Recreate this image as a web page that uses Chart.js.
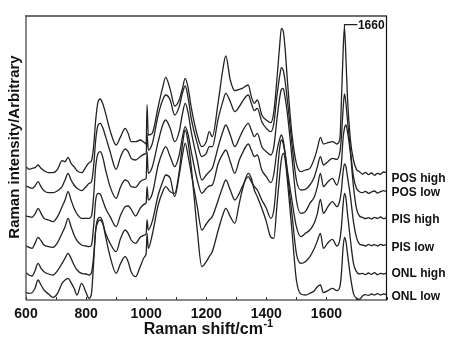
<!DOCTYPE html>
<html>
<head>
<meta charset="utf-8">
<script src="https://cdn.jsdelivr.net/npm/chart.js@4.4.1/dist/chart.umd.min.js"></script>
<style>
  html, body { margin: 0; padding: 0; background: #ffffff; }
  canvas { display: block; }
</style>
</head>
<body>
<canvas id="raman" width="450" height="343"></canvas>
<script>
// Raman shift (cm-1) sampling positions shared by all spectra
const wavenumbers = [
  600, 610, 620, 630, 640, 650, 660, 675, 690, 705,
  720, 730, 740, 750, 760, 770, 785, 800, 810, 818,
  825, 832, 840, 847, 855, 865, 880, 900, 915, 930,
  940, 950, 965, 980, 995, 1000, 1003, 1007, 1020, 1040,
  1055, 1065, 1080, 1095, 1110, 1120, 1130, 1140, 1150, 1170,
  1185, 1200, 1210, 1220, 1240, 1255, 1265, 1280, 1295, 1310,
  1320, 1340, 1350, 1360, 1370, 1385, 1400, 1415, 1425, 1435,
  1445, 1450, 1456, 1462, 1470, 1485, 1500, 1515, 1530, 1545,
  1560, 1570, 1580, 1590, 1605, 1620, 1635, 1645, 1650, 1655,
  1660, 1665, 1670, 1680, 1690, 1700, 1710, 1720, 1730, 1740,
  1750, 1760, 1770, 1780, 1790, 1800
];

// Stacked intensities (arbitrary units, offsets included)
const posHigh = [
  400, 392, 395, 397, 405, 395, 388, 382, 382, 392,
  418, 415, 428, 410, 400, 388, 382, 400, 412, 418,
  460, 540, 595, 603, 590, 560, 508, 465, 490, 515,
  500, 475, 475, 480, 472, 468, 585, 495, 500, 580,
  638, 668, 632, 582, 600, 632, 665, 635, 578, 495,
  460, 475, 505, 490, 595, 690, 732, 660, 628, 632,
  635, 645, 610, 590, 600, 555, 540, 532, 565, 660,
  770, 815, 808, 760, 660, 500, 410, 385, 390, 395,
  425, 455, 488, 468, 472, 475, 468, 485, 600, 730,
  820, 725, 610, 480, 420, 392, 385, 378, 383, 376,
  381, 374, 380, 377, 384, 382
];
const posLow = [
  342, 338, 335, 342, 355, 340, 328, 322, 322, 328,
  340, 360, 380, 360, 345, 335, 328, 340, 350, 355,
  400, 480, 525, 530, 518, 490, 445, 392, 430, 453,
  445, 425, 420, 430, 438, 440, 500, 450, 468, 555,
  600, 615, 600, 555, 580, 618, 642, 605, 545, 470,
  430, 440, 460, 460, 545, 595, 620, 595, 565, 580,
  595, 615, 590, 568, 575, 535, 515, 505, 530, 610,
  675, 697, 690, 660, 600, 470, 360, 330, 332, 345,
  370, 400, 430, 405, 415, 425, 422, 445, 490, 565,
  618, 590, 540, 450, 370, 335, 325, 322, 326, 320,
  324, 327, 321, 325, 328, 325
];
const pisHigh = [
  252, 250, 248, 258, 275, 260, 245, 240, 235, 250,
  280, 300, 325, 300, 275, 258, 245, 245, 245, 252,
  310, 400, 440, 445, 430, 390, 340, 305, 340, 360,
  355, 340, 338, 355, 362, 365, 445, 380, 398, 475,
  525, 540, 515, 475, 505, 555, 590, 560, 505, 420,
  360, 375, 385, 395, 460, 505, 525, 495, 460, 485,
  505, 530, 510, 490, 500, 460, 445, 435, 460, 540,
  610, 632, 635, 610, 560, 430, 300, 260, 265, 290,
  310, 340, 380, 340, 355, 365, 345, 378, 410, 480,
  515, 525, 505, 440, 340, 275, 252, 248, 244, 247,
  243, 248, 245, 249, 244, 247
];
const pisLow = [
  162, 158, 155, 170, 188, 178, 165, 160, 158, 172,
  200, 220, 245, 220, 195, 178, 165, 162, 160, 165,
  220, 300, 320, 318, 300, 275, 250, 220, 255, 280,
  282, 272, 252, 275, 288, 292, 340, 300, 318, 405,
  445, 460, 430, 400, 435, 485, 520, 495, 445, 360,
  320, 335, 342, 345, 410, 438, 450, 415, 380, 420,
  440, 468, 450, 430, 435, 390, 370, 352, 378, 445,
  485, 495, 480, 445, 390, 300, 220, 190, 200, 210,
  232, 260, 302, 260, 280, 295, 280, 300, 330, 380,
  408, 400, 370, 310, 235, 188, 168, 165, 162, 167,
  163, 166, 162, 167, 164, 166
];
const onlHigh = [
  82, 75, 72, 88, 110, 95, 85, 78, 75, 88,
  110, 125, 140, 125, 105, 90, 80, 78, 75, 82,
  130, 210, 235, 240, 230, 200, 170, 145, 185, 210,
  200, 180, 170, 188, 195, 200, 240, 210, 235, 315,
  355, 375, 365, 310, 375, 430, 470, 430, 380, 280,
  210, 228, 240, 250, 300, 340, 360, 330, 300, 320,
  340, 370, 355, 340, 330, 300, 275, 245, 270, 365,
  460, 480, 470, 440, 380, 260, 140, 110, 115, 130,
  155, 178, 200, 155, 172, 182, 162, 182, 220, 280,
  320, 305, 260, 180, 110, 85, 78, 80, 76, 81,
  77, 82, 76, 80, 78, 81
];
const onlLow = [
  22, 20, 22, 35, 60, 45, 30, 18, 8, 20,
  50, 60, 65, 52, 35, 15, 50, 22, 5, 20,
  110, 210, 245, 248, 235, 190, 130, 80, 110, 130,
  115, 85, 70, 100, 130, 140, 200, 155, 195, 285,
  325, 340, 325, 320, 385, 460, 510, 470, 400, 210,
  100, 115, 130, 145, 210, 255, 275, 250, 230, 290,
  330, 380, 365, 330, 310, 275, 235, 188, 185, 280,
  380, 420, 440, 425, 360, 210, 60, 18, 15, 20,
  28, 40, 45, 22, 28, 35, 28, 40, 80, 150,
  188, 175, 140, 70, 20, 5, 2, 12, 16, 14,
  18, 15, 19, 15, 18, 16
];

const seriesNames = ['POS high', 'POS low', 'PIS high', 'PIS low', 'ONL high', 'ONL low'];
const xTickValues = [600, 800, 1000, 1200, 1400, 1600];
const bandPosition = 1660;
const bandText = '1660';

const FONT = "'Liberation Sans', Arial, Helvetica, sans-serif";
const INK = '#222222';
const spectra = [posHigh, posLow, pisHigh, pisLow, onlHigh, onlLow];

// vertical nudges (px) of the series names relative to each trace's end
const nameNudge = [6, 1, 2, 3, 1, 2];

const decor = {
  id: 'decor',
  afterDatasetsDraw(chart) {
    const { ctx, chartArea: a, scales: { x, y } } = chart;
    ctx.save();

    // plot frame
    ctx.lineCap = 'butt';
    ctx.strokeStyle = '#6e6e6e';
    ctx.lineWidth = 2;
    ctx.beginPath(); ctx.moveTo(a.left - 1, a.top); ctx.lineTo(a.right + 0.5, a.top); ctx.stroke();
    ctx.strokeStyle = '#4a4a4a';
    ctx.lineWidth = 1.3;
    ctx.beginPath(); ctx.moveTo(a.left, a.top); ctx.lineTo(a.left, a.bottom); ctx.stroke();
    ctx.strokeStyle = '#111';
    ctx.lineWidth = 1.2;
    ctx.beginPath(); ctx.moveTo(a.left, a.bottom); ctx.lineTo(a.right, a.bottom); ctx.lineTo(a.right, a.top); ctx.stroke();

    // inward tick marks every 100 cm-1
    ctx.strokeStyle = '#333';
    ctx.lineWidth = 1;
    for (let v = 600; v <= 1800; v += 100) {
      const px = Math.round(x.getPixelForValue(v)) + 0.5;
      ctx.beginPath(); ctx.moveTo(px, a.bottom); ctx.lineTo(px, a.bottom - 3); ctx.stroke();
    }

    // axis titles
    ctx.fillStyle = '#111';
    ctx.textBaseline = 'alphabetic';
    const main = 'Raman shift/cm';
    ctx.font = `bold 16px ${FONT}`;
    const wMain = ctx.measureText(main).width;
    ctx.font = `bold 11px ${FONT}`;
    const wSup = ctx.measureText('-1').width;
    const cx = (a.left + a.right) / 2 + 2;
    const startX = cx - (wMain + wSup) / 2;
    ctx.font = `bold 16px ${FONT}`;
    ctx.textAlign = 'left';
    ctx.fillText(main, startX, 334);
    ctx.font = `bold 11px ${FONT}`;
    ctx.fillText('-1', startX + wMain + 0.5, 327);

    ctx.save();
    ctx.translate(15, 147);
    ctx.rotate(-Math.PI / 2);
    ctx.font = `bold 15px ${FONT}`;
    ctx.textAlign = 'center';
    ctx.textBaseline = 'middle';
    ctx.fillText('Raman intensity/Arbitrary', 0, 0);
    ctx.restore();

    // series names at the right end of each trace
    ctx.font = `bold 12px ${FONT}`;
    ctx.textAlign = 'left';
    ctx.textBaseline = 'middle';
    spectra.forEach((s, i) => {
      const py = y.getPixelForValue(s[s.length - 1]) + nameNudge[i];
      ctx.fillText(seriesNames[i], a.right + 5, py);
    });

    // band marker on the strongest peak
    const idx = wavenumbers.indexOf(bandPosition);
    const px = x.getPixelForValue(bandPosition);
    const py = y.getPixelForValue(posHigh[idx]);
    ctx.strokeStyle = INK;
    ctx.lineWidth = 1.1;
    ctx.beginPath();
    ctx.moveTo(px, py + 1);
    ctx.lineTo(px, py - 2);
    ctx.lineTo(px + 13, py - 2);
    ctx.stroke();
    ctx.font = `bold 12px ${FONT}`;
    ctx.fillText(bandText, px + 13.5, py - 1);

    ctx.restore();
  }
};

const datasets = spectra.map((s, i) => ({
  label: seriesNames[i],
  data: s.map((v, k) => ({ x: wavenumbers[k], y: v })),
  borderColor: INK,
  borderWidth: 1.3,
  pointRadius: 0,
  fill: false,
  cubicInterpolationMode: 'monotone'
}));

new Chart(document.getElementById('raman'), {
  type: 'line',
  data: { datasets },
  options: {
    responsive: false,
    animation: false,
    devicePixelRatio: 1,
    layout: { padding: { left: 26, right: 63.5, top: 16, bottom: 0 } },
    plugins: { legend: { display: false }, tooltip: { enabled: false } },
    scales: {
      x: {
        type: 'linear',
        min: 600,
        max: 1800,
        grid: { display: false, drawTicks: false },
        border: { display: false },
        afterBuildTicks: (scale) => { scale.ticks = xTickValues.map(v => ({ value: v })); },
        afterFit: (scale) => { scale.height = 43; },
        ticks: {
          autoSkip: false,
          maxRotation: 0,
          padding: 6,
          color: '#111',
          font: { family: FONT, size: 14, weight: 'bold' },
          callback: (v) => String(v)
        }
      },
      y: { type: 'linear', min: 0, max: 852, display: false }
    }
  },
  plugins: [decor]
});
</script>
</body>
</html>
